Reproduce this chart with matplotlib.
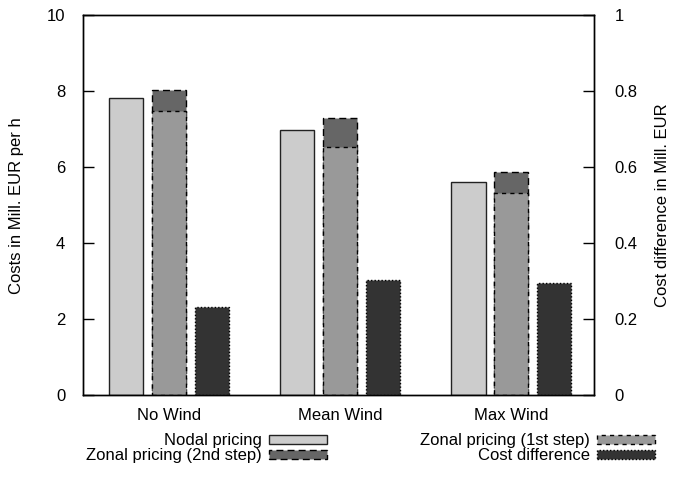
import matplotlib.pyplot as plt
import numpy as np

plt.rcParams['font.family'] = ['Liberation Sans', 'DejaVu Sans']
plt.rcParams['font.size'] = 12

# costs per scenario, Mill. EUR per h
scenarios = ['No Wind', 'Mean Wind', 'Max Wind']
nodal = [7.82, 6.98, 5.60]
zonal_1st = [7.47, 6.53, 5.33]
zonal_2nd = [8.03, 7.29, 5.88]
# difference zonal (2nd step) - nodal, Mill. EUR
cost_diff = [0.232, 0.304, 0.295]

x = np.arange(len(scenarios))
w = 0.2

fig = plt.figure(figsize=(6.75, 4.78), dpi=100)
ax = fig.add_axes([0.1234, 0.1726, 0.7559, 0.796])
ax2 = ax.twinx()

b_nodal = ax.bar(x - 0.25, nodal, w, color='#cccccc', edgecolor='#222222',
                 linewidth=1, label='Nodal pricing')
b_z2 = ax.bar(x, zonal_2nd, w, color='#666666', edgecolor='black',
              linewidth=1, linestyle=(0, (5, 3)), label='Zonal pricing (2nd step)')
b_z1 = ax.bar(x, zonal_1st, w, color='#999999', edgecolor='black',
              linewidth=1, linestyle=(0, (3, 3)), label='Zonal pricing (1st step)')
b_diff = ax2.bar(x + 0.25, cost_diff, w, color='#333333', edgecolor='black',
                 linewidth=1, linestyle=(0, (1, 1.5)), label='Cost difference')

ax.set_xlim(-0.5, 2.48)
ax.set_ylim(0, 10)
ax2.set_ylim(0, 1)
ax.set_xticks(x)
ax.set_xticklabels(scenarios)
ax.set_yticks(np.arange(0, 11, 2))
ax2.set_yticks(np.arange(0, 1.01, 0.2))
ax2.set_yticklabels(['0', '0.2', '0.4', '0.6', '0.8', '1'])

for a in (ax, ax2):
    for s in a.spines.values():
        s.set_linewidth(1.0)
ax.tick_params(axis='y', direction='in', length=8, width=1, pad=13)
ax.tick_params(axis='x', length=0, pad=9)
ax2.tick_params(axis='y', direction='in', length=8, width=1, pad=15)

ax.set_ylabel('Costs in Mill. EUR per h')
ax.yaxis.set_label_coords(-0.116, 0.5)
ax2.set_ylabel('Cost difference in Mill. EUR')
ax2.yaxis.set_label_coords(1.12, 0.5)

leg_kw = dict(loc='center right', markerfirst=False, frameon=False,
              handlelength=3.5, handleheight=0.45, handletextpad=0.4,
              labelspacing=0.0, borderpad=0, borderaxespad=0)
fig.legend(handles=[b_nodal, b_z2], labels=['Nodal pricing', 'Zonal pricing (2nd step)'],
           bbox_to_anchor=(327 / 675, 1 - 448 / 478), **leg_kw)
fig.legend(handles=[b_z1, b_diff], labels=['Zonal pricing (1st step)', 'Cost difference'],
           bbox_to_anchor=(655 / 675, 1 - 448 / 478), **leg_kw)

fig.savefig('out.png', dpi=100)
